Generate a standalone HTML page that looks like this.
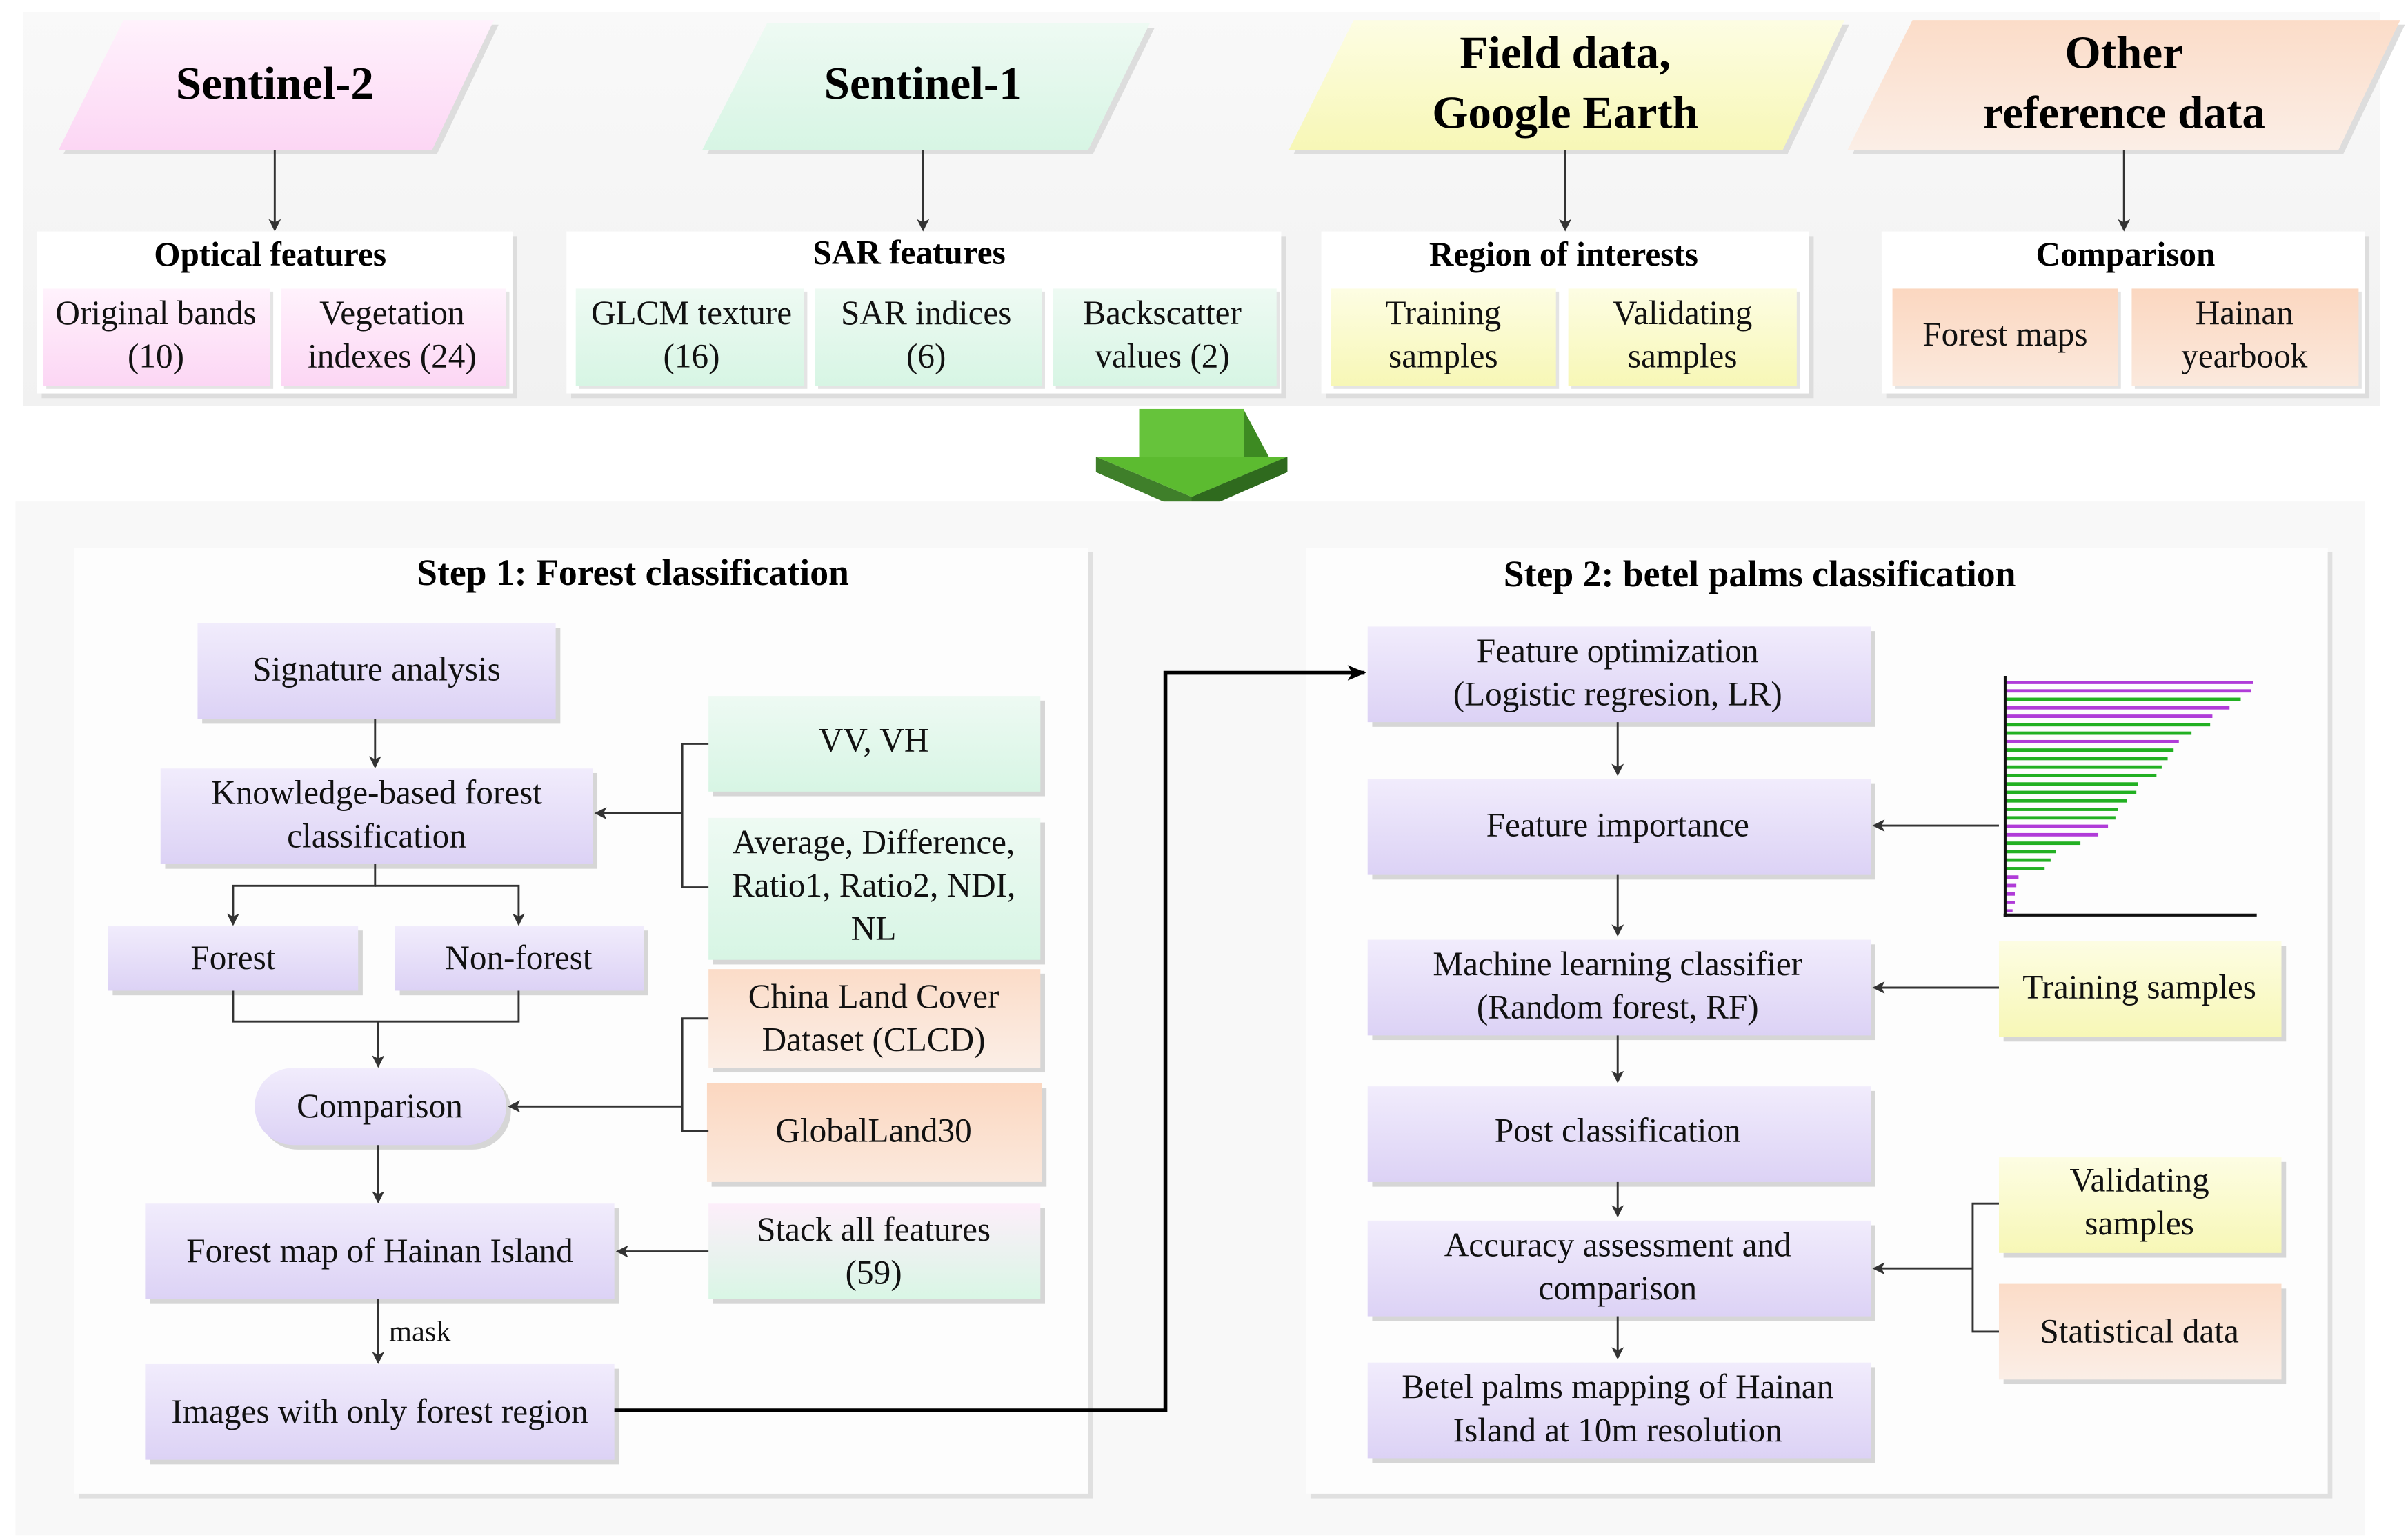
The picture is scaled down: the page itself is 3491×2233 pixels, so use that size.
<!DOCTYPE html>
<html><head><meta charset="utf-8"><style>html,body{margin:0;padding:0;background:#fff}svg{display:block}</style></head>
<body>
<svg xmlns="http://www.w3.org/2000/svg" width="3491" height="2233" viewBox="0 0 1560 998" preserveAspectRatio="none" font-family="'Liberation Serif', serif">
<defs>
<linearGradient id="lav" x1="0" y1="0" x2="0" y2="1"><stop offset="0" stop-color="#f1ecfc"/><stop offset="1" stop-color="#dcd2f5"/></linearGradient>
<linearGradient id="pink" x1="0" y1="0" x2="0" y2="1"><stop offset="0" stop-color="#fff2fc"/><stop offset="1" stop-color="#fcd6f4"/></linearGradient>
<linearGradient id="grn" x1="0" y1="0" x2="0" y2="1"><stop offset="0" stop-color="#eefaf3"/><stop offset="1" stop-color="#d7f5e4"/></linearGradient>
<linearGradient id="yel" x1="0" y1="0" x2="0" y2="1"><stop offset="0" stop-color="#fdfde3"/><stop offset="1" stop-color="#f7f7b6"/></linearGradient>
<linearGradient id="org" x1="0" y1="0" x2="0" y2="1"><stop offset="0" stop-color="#fbdcc8"/><stop offset="1" stop-color="#fbeee6"/></linearGradient>
<linearGradient id="org2" x1="0" y1="0" x2="0" y2="1"><stop offset="0" stop-color="#fbd7c0"/><stop offset="1" stop-color="#fbe9dd"/></linearGradient>
<linearGradient id="stack" x1="0" y1="0" x2="0" y2="1"><stop offset="0" stop-color="#fdeefa"/><stop offset="1" stop-color="#d9f6e5"/></linearGradient>
<linearGradient id="bg" x1="0" y1="0" x2="0" y2="1"><stop offset="0" stop-color="#f9f9f9"/><stop offset="1" stop-color="#f1f1f1"/></linearGradient>
<marker id="ar" markerWidth="8" markerHeight="8" refX="7" refY="4" orient="auto" markerUnits="userSpaceOnUse"><path d="M0,0 L8,4 L0,8 L2,4 z" fill="#333"/></marker>
<marker id="arb" markerWidth="12" markerHeight="10" refX="11" refY="5" orient="auto" markerUnits="userSpaceOnUse"><path d="M0,0 L12,5 L0,10 L3,5 z" fill="#000"/></marker>
</defs>
<rect width="1560" height="998" fill="#fff"/>
<rect x="15" y="8" width="1527" height="255" fill="url(#bg)"/>
<g>
<polygon points="41,100 83,16 323,16 283,100" fill="#ddd"/>
<polygon points="38,97 80,13 320,13 280,97" fill="url(#pink)"/>
<polygon points="458,100 500,18 748,18 708,100" fill="#ddd"/>
<polygon points="455,97 497,15 745,15 705,97" fill="url(#grn)"/>
<polygon points="838,100 880,16 1198,16 1158,100" fill="#ddd"/>
<polygon points="835,97 877,13 1195,13 1155,97" fill="url(#yel)"/>
<polygon points="1200,100 1242,16 1558,16 1518,100" fill="#ddd"/>
<polygon points="1197,97 1239,13 1555,13 1515,97" fill="url(#org)"/>
</g>
<g font-weight="bold" font-size="30" text-anchor="middle" fill="#000">
<text x="178" y="64">Sentinel-2</text>
<text x="598" y="64">Sentinel-1</text>
<text x="1014" y="44">Field data,</text>
<text x="1014" y="83">Google Earth</text>
<text x="1376" y="44">Other</text>
<text x="1376" y="83">reference data</text>
</g>
<g stroke="#333" stroke-width="1.3" marker-end="url(#ar)">
<line x1="178" y1="97" x2="178" y2="149"/>
<line x1="598" y1="97" x2="598" y2="149"/>
<line x1="1014" y1="97" x2="1014" y2="149"/>
<line x1="1376" y1="97" x2="1376" y2="149"/>
</g>
<g>
<rect x="27" y="153" width="308" height="105" fill="#ddd"/><rect x="24" y="150" width="308" height="105" fill="#fff"/>
<rect x="370" y="153" width="463" height="105" fill="#ddd"/><rect x="367" y="150" width="463" height="105" fill="#fff"/>
<rect x="859" y="153" width="316" height="105" fill="#ddd"/><rect x="856" y="150" width="316" height="105" fill="#fff"/>
<rect x="1222" y="153" width="313" height="105" fill="#ddd"/><rect x="1219" y="150" width="313" height="105" fill="#fff"/>
</g>
<g>
<rect x="30" y="189" width="147" height="63" fill="#e4e4e4"/><rect x="28" y="187" width="147" height="63" fill="url(#pink)"/>
<rect x="184" y="189" width="146" height="63" fill="#e4e4e4"/><rect x="182" y="187" width="146" height="63" fill="url(#pink)"/>
<rect x="375" y="189" width="148" height="63" fill="#e4e4e4"/><rect x="373" y="187" width="148" height="63" fill="url(#grn)"/>
<rect x="530" y="189" width="147" height="63" fill="#e4e4e4"/><rect x="528" y="187" width="147" height="63" fill="url(#grn)"/>
<rect x="684" y="189" width="145" height="63" fill="#e4e4e4"/><rect x="682" y="187" width="145" height="63" fill="url(#grn)"/>
<rect x="864" y="189" width="146" height="63" fill="#e4e4e4"/><rect x="862" y="187" width="146" height="63" fill="url(#yel)"/>
<rect x="1018" y="189" width="148" height="63" fill="#e4e4e4"/><rect x="1016" y="187" width="148" height="63" fill="url(#yel)"/>
<rect x="1228" y="189" width="146" height="63" fill="#e4e4e4"/><rect x="1226" y="187" width="146" height="63" fill="url(#org2)"/>
<rect x="1383" y="189" width="147" height="63" fill="#e4e4e4"/><rect x="1381" y="187" width="147" height="63" fill="url(#org2)"/>
</g>
<g font-weight="bold" font-size="22" text-anchor="middle">
<text x="175" y="172">Optical features</text>
<text x="589" y="171">SAR features</text>
<text x="1013" y="172">Region of interests</text>
<text x="1377" y="172">Comparison</text>
</g>
<g font-size="22" text-anchor="middle" fill="#111">
<text x="101" y="210">Original bands</text><text x="101" y="238">(10)</text>
<text x="254" y="210">Vegetation</text><text x="254" y="238">indexes (24)</text>
<text x="448" y="210">GLCM texture</text><text x="448" y="238">(16)</text>
<text x="600" y="210">SAR indices</text><text x="600" y="238">(6)</text>
<text x="753" y="210">Backscatter</text><text x="753" y="238">values (2)</text>
<text x="935" y="210">Training</text><text x="935" y="238">samples</text>
<text x="1090" y="210">Validating</text><text x="1090" y="238">samples</text>
<text x="1299" y="224">Forest maps</text>
<text x="1454" y="210">Hainan</text><text x="1454" y="238">yearbook</text>
</g>
<g>
<polygon points="710,296 772,322 834,296 834,306 772,333 710,306" fill="#3f7f2a"/>
<polygon points="806,266 822,296 806,296" fill="#3d8a22"/>
<rect x="738" y="265" width="68" height="31" fill="#66c33b"/>
<polygon points="710,296 834,296 772,322" fill="#5cbb30"/>
<polygon points="772,322 834,296 834,306 772,333" fill="#2f6a1e"/>
</g>
<rect x="10" y="325" width="1522" height="670" fill="#f8f8f8"/>
<rect x="51" y="358" width="657" height="613" fill="#e0e0e0"/>
<rect x="48" y="355" width="657" height="613" fill="#fdfdfd"/>
<rect x="849" y="358" width="662" height="613" fill="#e0e0e0"/>
<rect x="846" y="355" width="662" height="613" fill="#fdfdfd"/>
<g font-weight="bold" font-size="24" text-anchor="middle">
<text x="410" y="379">Step 1: Forest classification</text>
<text x="1140" y="380">Step 2: betel palms  classification</text>
</g>
<g fill="#d6d6d6">
<rect x="131" y="407" width="232" height="62"/>
<rect x="107" y="501" width="280" height="62"/>
<rect x="73" y="603" width="162" height="42"/>
<rect x="259" y="603" width="161" height="42"/>
<rect x="168" y="695" width="163" height="50" rx="25"/>
<rect x="97" y="783" width="304" height="62"/>
<rect x="97" y="887" width="304" height="62"/>
<rect x="462" y="454" width="215" height="62"/>
<rect x="462" y="533" width="215" height="92"/>
<rect x="462" y="631" width="215" height="64"/>
<rect x="461" y="705" width="217" height="64"/>
<rect x="462" y="783" width="215" height="62"/>
</g>
<g fill="url(#lav)">
<rect x="128" y="404" width="232" height="62"/>
<rect x="104" y="498" width="280" height="62"/>
<rect x="70" y="600" width="162" height="42"/>
<rect x="256" y="600" width="161" height="42"/>
<rect x="165" y="692" width="163" height="50" rx="25"/>
<rect x="94" y="780" width="304" height="62"/>
<rect x="94" y="884" width="304" height="62"/>
</g>
<rect x="459" y="451" width="215" height="62" fill="url(#grn)"/>
<rect x="459" y="530" width="215" height="92" fill="url(#grn)"/>
<rect x="459" y="628" width="215" height="64" fill="url(#org)"/>
<rect x="458" y="702" width="217" height="64" fill="url(#org2)"/>
<rect x="459" y="780" width="215" height="62" fill="url(#stack)"/>
<g font-size="22" text-anchor="middle" fill="#111">
<text x="244" y="441">Signature analysis</text>
<text x="244" y="521">Knowledge-based forest</text><text x="244" y="549">classification</text>
<text x="151" y="628">Forest</text>
<text x="336" y="628">Non-forest</text>
<text x="246" y="724">Comparison</text>
<text x="246" y="818">Forest map of Hainan Island</text>
<text x="246" y="922">Images with only forest region</text>
<text x="566" y="487">VV, VH</text>
<text x="566" y="553">Average, Difference,</text><text x="566" y="581">Ratio1, Ratio2, NDI,</text><text x="566" y="609">NL</text>
<text x="566" y="653">China Land Cover</text><text x="566" y="681">Dataset (CLCD)</text>
<text x="566" y="740">GlobalLand30</text>
<text x="566" y="804">Stack all features</text><text x="566" y="832">(59)</text>
<text x="252" y="869" font-size="19" text-anchor="start">mask</text>
</g>
<g stroke="#333" stroke-width="1.3" fill="none">
<line x1="243" y1="466" x2="243" y2="497" marker-end="url(#ar)"/>
<polyline points="243,560 243,574 151,574 151,599" marker-end="url(#ar)"/>
<polyline points="243,574 336,574 336,599" marker-end="url(#ar)"/>
<polyline points="151,642 151,662 336,662 336,642"/>
<line x1="245" y1="662" x2="245" y2="691" marker-end="url(#ar)"/>
<line x1="245" y1="742" x2="245" y2="779" marker-end="url(#ar)"/>
<line x1="245" y1="842" x2="245" y2="883" marker-end="url(#ar)"/>
<polyline points="459,482 442,482 442,575 459,575"/>
<line x1="442" y1="527" x2="386" y2="527" marker-end="url(#ar)"/>
<polyline points="459,660 442,660 442,733 459,733"/>
<line x1="442" y1="717" x2="330" y2="717" marker-end="url(#ar)"/>
<line x1="459" y1="811" x2="400" y2="811" marker-end="url(#ar)"/>
</g>
<polyline points="398,914 755,914 755,436 884,436" stroke="#000" stroke-width="2.5" fill="none" marker-end="url(#arb)"/>
<g fill="#d6d6d6">
<rect x="889" y="409" width="326" height="62"/>
<rect x="889" y="508" width="326" height="62"/>
<rect x="889" y="612" width="326" height="62"/>
<rect x="889" y="707" width="326" height="62"/>
<rect x="889" y="794" width="326" height="62"/>
<rect x="889" y="886" width="326" height="62"/>
<rect x="1298" y="613" width="183" height="62"/>
<rect x="1298" y="753" width="183" height="62"/>
<rect x="1298" y="835" width="183" height="62"/>
</g>
<g fill="url(#lav)">
<rect x="886" y="406" width="326" height="62"/>
<rect x="886" y="505" width="326" height="62"/>
<rect x="886" y="609" width="326" height="62"/>
<rect x="886" y="704" width="326" height="62"/>
<rect x="886" y="791" width="326" height="62"/>
<rect x="886" y="883" width="326" height="62"/>
</g>
<rect x="1295" y="610" width="183" height="62" fill="url(#yel)"/>
<rect x="1295" y="750" width="183" height="62" fill="url(#yel)"/>
<rect x="1295" y="832" width="183" height="62" fill="url(#org)"/>
<g font-size="22" text-anchor="middle" fill="#111">
<text x="1048" y="429">Feature optimization</text><text x="1048" y="457">(Logistic regresion, LR)</text>
<text x="1048" y="542">Feature importance</text>
<text x="1048" y="632">Machine learning classifier</text><text x="1048" y="660">(Random forest, RF)</text>
<text x="1048" y="740">Post  classification</text>
<text x="1048" y="814">Accuracy assessment and</text><text x="1048" y="842">comparison</text>
<text x="1048" y="906">Betel palms mapping of Hainan</text><text x="1048" y="934">Island at 10m resolution</text>
<text x="1386" y="647">Training samples</text>
<text x="1386" y="772">Validating</text><text x="1386" y="800">samples</text>
<text x="1386" y="870">Statistical data</text>
</g>
<g stroke="#333" stroke-width="1.3" fill="none">
<line x1="1048" y1="468" x2="1048" y2="502" marker-end="url(#ar)"/>
<line x1="1048" y1="567" x2="1048" y2="606" marker-end="url(#ar)"/>
<line x1="1048" y1="671" x2="1048" y2="701" marker-end="url(#ar)"/>
<line x1="1048" y1="766" x2="1048" y2="788" marker-end="url(#ar)"/>
<line x1="1048" y1="853" x2="1048" y2="880" marker-end="url(#ar)"/>
<line x1="1295" y1="535" x2="1214" y2="535" marker-end="url(#ar)"/>
<line x1="1295" y1="640" x2="1214" y2="640" marker-end="url(#ar)"/>
<polyline points="1295,780 1278,780 1278,863 1295,863"/>
<line x1="1278" y1="822" x2="1214" y2="822" marker-end="url(#ar)"/>
</g>
<g transform="translate(1299,442) scale(0.483,0.433)">
<rect x="0" y="-2" width="333" height="5" fill="#b03cd8"/>
<rect x="0" y="10.7" width="330" height="5" fill="#b03cd8"/>
<rect x="0" y="23.3" width="316" height="5" fill="#22b022"/>
<rect x="0" y="36" width="301" height="5" fill="#b03cd8"/>
<rect x="0" y="48.7" width="278" height="5" fill="#b03cd8"/>
<rect x="0" y="61.3" width="275" height="5" fill="#22b022"/>
<rect x="0" y="74" width="250" height="5" fill="#22b022"/>
<rect x="0" y="86.7" width="233" height="5" fill="#b03cd8"/>
<rect x="0" y="99.3" width="226" height="5" fill="#22b022"/>
<rect x="0" y="112" width="218" height="5" fill="#22b022"/>
<rect x="0" y="124.7" width="210" height="5" fill="#22b022"/>
<rect x="0" y="137.3" width="203" height="5" fill="#22b022"/>
<rect x="0" y="150" width="178" height="5" fill="#22b022"/>
<rect x="0" y="162.7" width="176" height="5" fill="#22b022"/>
<rect x="0" y="175.3" width="163" height="5" fill="#22b022"/>
<rect x="0" y="188" width="151" height="5" fill="#22b022"/>
<rect x="0" y="200.7" width="148" height="5" fill="#22b022"/>
<rect x="0" y="213.3" width="138" height="5" fill="#b03cd8"/>
<rect x="0" y="226" width="125" height="5" fill="#b03cd8"/>
<rect x="0" y="238.7" width="101" height="5" fill="#22b022"/>
<rect x="0" y="251.3" width="68" height="5" fill="#22b022"/>
<rect x="0" y="264" width="61" height="5" fill="#22b022"/>
<rect x="0" y="276.7" width="53" height="5" fill="#22b022"/>
<rect x="0" y="289.3" width="18" height="5" fill="#b03cd8"/>
<rect x="0" y="302" width="15" height="5" fill="#b03cd8"/>
<rect x="0" y="314.7" width="13" height="5" fill="#b03cd8"/>
<rect x="0" y="327.3" width="13" height="5" fill="#b03cd8"/>
<rect x="0" y="340" width="10" height="4" fill="#b03cd8"/>
</g>
<line x1="1299" y1="438" x2="1299" y2="594" stroke="#111" stroke-width="1.8"/>
<line x1="1298" y1="593" x2="1462" y2="593" stroke="#111" stroke-width="1.8"/>
</svg>
</body></html>
